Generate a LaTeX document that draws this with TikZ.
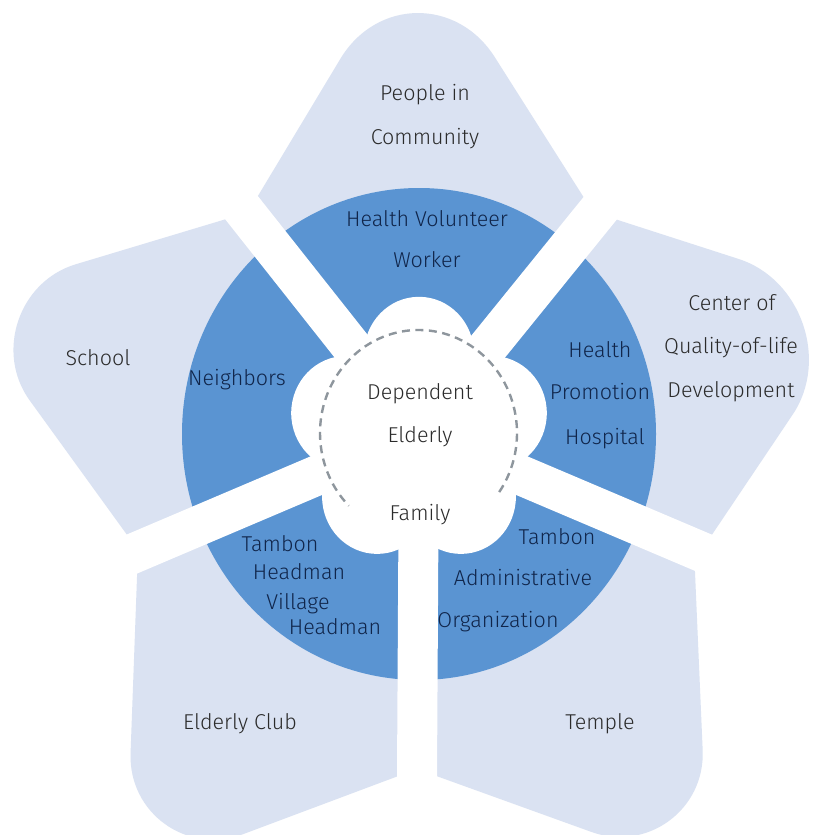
\documentclass[tikz,border=0pt]{standalone}
\usepackage{fontspec}
\setmainfont{Fira Sans Light}
\usetikzlibrary{calc}
\definecolor{petal}{HTML}{DAE2F2}
\definecolor{ringblue}{HTML}{5A94D2}
\definecolor{ptext}{HTML}{2B2B2B}
\definecolor{rtext}{HTML}{10254A}
\definecolor{dashgray}{HTML}{8E969D}
\begin{document}
\begin{tikzpicture}[x=1pt,y=-1pt,
  band/.style={line width=40pt, white},
  lbl/.style={font=\fontsize{21.5}{26}\selectfont, inner sep=0pt, anchor=base},
  ptxt/.style={lbl, text=ptext},
  rtxt/.style={lbl, text=rtext},
  ctxt/.style={lbl, text=ptext}]
\useasboundingbox (0,0) rectangle (812,835);
\fill[white] (0,0) rectangle (812,835);
\clip (0,0) rectangle (812,835);

% key points
\coordinate (F) at (419,432);
\coordinate (IUR) at (593,212);
\coordinate (ILR) at (694.5,560.7);
\coordinate (IB) at (417,769);
\coordinate (ILL) at (138,550);
\coordinate (IUL) at (248,212.5);
\coordinate (VT) at (416,-67);
\coordinate (VR) at (869,301);
\coordinate (VLR) at (708,874);
\coordinate (VLL) at (126,878);
\coordinate (VL) at (-43,300);

\coordinate (T1a) at ($(VT)!147pt!(IUL)$);
\coordinate (T1b) at ($(VT)!147pt!(IUR)$);
\coordinate (T2a) at ($(VR)!137pt!(IUR)$);
\coordinate (T2b) at ($(VR)!137pt!(ILR)$);
\coordinate (T3a) at ($(VLR)!124pt!(ILR)$);
\coordinate (T3b) at ($(VLR)!124pt!(IB)$);
\coordinate (T4a) at ($(VLL)!125pt!(IB)$);
\coordinate (T4b) at ($(VLL)!125pt!(ILL)$);
\coordinate (T5a) at ($(VL)!124pt!(ILL)$);
\coordinate (T5b) at ($(VL)!124pt!(IUL)$);

% outer petals
\fill[petal] (IUL) -- (T1a) .. controls ($(T1a)!0.48!(VT)$) and ($(T1b)!0.48!(VT)$) .. (T1b)
  -- (IUR) -- (T2a) .. controls ($(T2a)!0.48!(VR)$) and ($(T2b)!0.48!(VR)$) .. (T2b)
  -- (ILR) -- (T3a) .. controls ($(T3a)!0.48!(VLR)$) and ($(T3b)!0.48!(VLR)$) .. (T3b)
  -- (IB) -- (T4a) .. controls ($(T4a)!0.48!(VLL)$) and ($(T4b)!0.48!(VLL)$) .. (T4b)
  -- (ILL) -- (T5a) .. controls ($(T5a)!0.48!(VL)$) and ($(T5b)!0.48!(VL)$) .. (T5b)
  -- cycle;

% dark ring
\fill[ringblue] (419,434) ellipse [x radius=237, y radius=246];

% white gaps
\coordinate (GUR) at (600,208.5);
\coordinate (GLR) at (704,553);
\coordinate (GB) at (417,777);
\coordinate (GLL) at (132,554);
\coordinate (GUL) at (241,207);
\foreach \g in {GUR,GLR,GB,GLL,GUL}
  \draw[band] (F) -- ($(F)!1.6!(\g)$);

% central flower
\fill[white] (F) ellipse [x radius=85, y radius=88.4];
\fill[white] (419,354) ellipse [x radius=55, y radius=57.2];
\fill[white] (491.8,413.1) ellipse [x radius=55, y radius=57.2];
\fill[white] (346.2,413.1) ellipse [x radius=55, y radius=57.2];
\fill[white] (460.9,496.7) ellipse [x radius=55, y radius=57.2];
\fill[white] (377.1,496.7) ellipse [x radius=55, y radius=57.2];

% dashed circle
\coordinate (D) at (418.5,433);
\draw[dashgray, line width=2.4pt, dash pattern=on 8pt off 5.5pt]
  ($(D)+(35:98.5 and 103)$) arc[start angle=35, end angle=-225, x radius=98.5, y radius=103];

% texts
\node[ptxt] (people1) at (425,100) {People in};
\node[ptxt] (people2) at (425,144) {Community};
\node[rtxt] (hvw1) at (427,226) {Health Volunteer};
\node[rtxt] (hvw2) at (427,267) {Worker};
\node[ptxt] (school) at (98,365) {School};
\node[rtxt] (neigh) at (237,385) {Neighbors};
\node[ptxt] (cq1) at (732,310) {Center of};
\node[ptxt] (cq2) at (731,353) {Quality-of-life};
\node[ptxt] (cq3) at (731,397) {Development};
\node[rtxt] (hph1) at (600,357) {Health};
\node[rtxt] (hph2) at (600,399) {Promotion};
\node[rtxt] (hph3) at (605,444) {Hospital};
\node[ctxt] (de1) at (420,399) {Dependent};
\node[ctxt] (de2) at (420,442) {Elderly};
\node[ctxt] (fam) at (420,520) {Family};
\node[rtxt] (tl1) at (280,551) {Tambon};
\node[rtxt] (tl2) at (299,579) {Headman};
\node[rtxt] (tl3) at (298,609) {Village};
\node[rtxt] (tl4) at (335,634) {Headman};
\node[rtxt] (tr1) at (557,544) {Tambon};
\node[rtxt] (tr2) at (523,585) {Administrative};
\node[rtxt] (tr3) at (498,627) {Organization};
\node[ptxt] (club) at (240,729) {Elderly Club};
\node[ptxt] (temple) at (600,729) {Temple};
\end{tikzpicture}
\end{document}
